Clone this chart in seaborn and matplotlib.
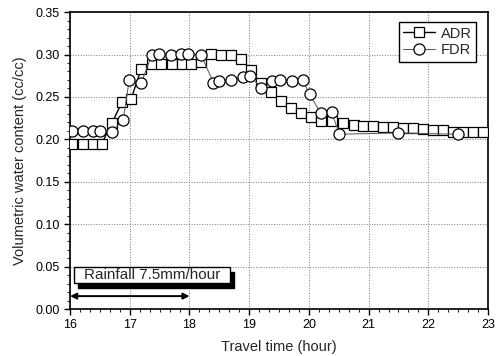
import matplotlib
matplotlib.use("Agg")
import matplotlib.pyplot as plt
import matplotlib.patches as mpatches
import matplotlib.transforms as mtransforms
from matplotlib.ticker import MultipleLocator, AutoMinorLocator
import seaborn as sns

# ADR readings (travel time in hours, volumetric water content cc/cc)
adr_time = [16.04, 16.21, 16.38, 16.53, 16.70, 16.87, 17.02, 17.19, 17.38, 17.53,
            17.70, 17.87, 18.03, 18.19, 18.36, 18.52, 18.69, 18.86, 19.03, 19.19,
            19.36, 19.53, 19.70, 19.86, 20.03, 20.20, 20.38, 20.57, 20.75, 20.90,
            21.07, 21.24, 21.40, 21.57, 21.74, 21.91, 22.08, 22.24, 22.41, 22.58,
            22.75, 22.92]
adr_vwc = [0.195, 0.195, 0.195, 0.195, 0.219, 0.244, 0.247, 0.283, 0.289, 0.289,
           0.289, 0.289, 0.289, 0.291, 0.301, 0.300, 0.300, 0.295, 0.282, 0.266,
           0.256, 0.245, 0.237, 0.231, 0.226, 0.222, 0.222, 0.219, 0.217, 0.2155,
           0.2155, 0.215, 0.214, 0.213, 0.213, 0.212, 0.211, 0.211, 0.209, 0.209,
           0.209, 0.209]

# FDR readings
fdr_time = [16.04, 16.21, 16.38, 16.50, 16.70, 16.89, 16.99, 17.19, 17.37, 17.49,
            17.69, 17.86, 17.98, 18.19, 18.40, 18.50, 18.69, 18.89, 19.02, 19.20,
            19.39, 19.51, 19.71, 19.90, 20.01, 20.20, 20.38, 20.51, 21.50, 22.50]
fdr_vwc = [0.210, 0.210, 0.210, 0.210, 0.209, 0.223, 0.270, 0.266, 0.300, 0.301,
           0.300, 0.301, 0.301, 0.300, 0.267, 0.269, 0.270, 0.273, 0.275, 0.260,
           0.2685, 0.270, 0.269, 0.270, 0.253, 0.231, 0.232, 0.206, 0.2076, 0.206]

rain_start, rain_end = 16.0, 18.0
rain_label = "Rainfall 7.5mm/hour"

sns.set_style("white")
plt.rcParams['font.family'] = ['Liberation Sans', 'DejaVu Sans']

fig = plt.figure(figsize=(4.97, 3.56), dpi=100)
ax = fig.add_axes([0.141, 0.132, 0.841, 0.834])

sns.lineplot(x=adr_time, y=adr_vwc, ax=ax, sort=False, color='black', lw=1.0,
             marker='s', markersize=7, markerfacecolor='white',
             markeredgecolor='black', markeredgewidth=0.9, label='ADR', zorder=3)
sns.lineplot(x=fdr_time, y=fdr_vwc, ax=ax, sort=False, color='#555555', lw=0.7,
             marker='o', markersize=8, markerfacecolor='white',
             markeredgecolor='black', markeredgewidth=0.9, label='FDR', zorder=4)

ax.set_xlim(16, 23)
ax.set_ylim(0, 0.35)
ax.xaxis.set_major_locator(MultipleLocator(1))
ax.xaxis.set_minor_locator(AutoMinorLocator(6))
ax.yaxis.set_major_locator(MultipleLocator(0.05))
ax.yaxis.set_minor_locator(AutoMinorLocator(5))
ax.yaxis.set_major_formatter(matplotlib.ticker.FormatStrFormatter('%.2f'))
ax.tick_params(which='major', direction='out', length=4, width=1, labelsize=9,
               bottom=True, left=True, colors='black')
ax.tick_params(which='minor', direction='out', length=2, width=0.8,
               bottom=True, left=True)
ax.grid(True, which='major', linestyle=':', color='#777777', lw=0.7)
ax.set_axisbelow(True)
for s in ax.spines.values():
    s.set_color('black')
    s.set_linewidth(1.2)

ax.set_xlabel("Travel time (hour)", fontsize=10.5, labelpad=6)
ax.set_ylabel("Volumetric water content (cc/cc)", fontsize=10.5, labelpad=6)

leg = ax.legend(loc='upper right', bbox_to_anchor=(0.972, 0.966), borderaxespad=0,
                fontsize=10.5, frameon=True, fancybox=False, framealpha=1,
                edgecolor='black', handlelength=2.2, handletextpad=0.4,
                borderpad=0.3, labelspacing=0.2)
leg.get_frame().set_linewidth(1.0)

# rainfall box with drop shadow
box_x0, box_x1, box_y0, box_y1 = 16.07, 18.68, 0.031, 0.0495
shadow_tr = mtransforms.offset_copy(ax.transData, fig=fig, x=4, y=-5, units='dots')
ax.add_patch(mpatches.Rectangle((box_x0, box_y0), box_x1 - box_x0, box_y1 - box_y0,
                                facecolor='black', edgecolor='black',
                                transform=shadow_tr, zorder=5))
ax.add_patch(mpatches.Rectangle((box_x0, box_y0), box_x1 - box_x0, box_y1 - box_y0,
                                facecolor='white', edgecolor='black', lw=1.0, zorder=6))
ax.text((box_x0 + box_x1) / 2, (box_y0 + box_y1) / 2, rain_label, fontsize=11,
        ha='center', va='center', zorder=7)
ax.annotate('', xy=(rain_start, 0.0152), xytext=(rain_end, 0.0152),
            arrowprops=dict(arrowstyle='<|-|>', color='black', lw=1.4,
                            mutation_scale=9, shrinkA=0, shrinkB=0), zorder=6)

fig.savefig("out.png", dpi=100)
